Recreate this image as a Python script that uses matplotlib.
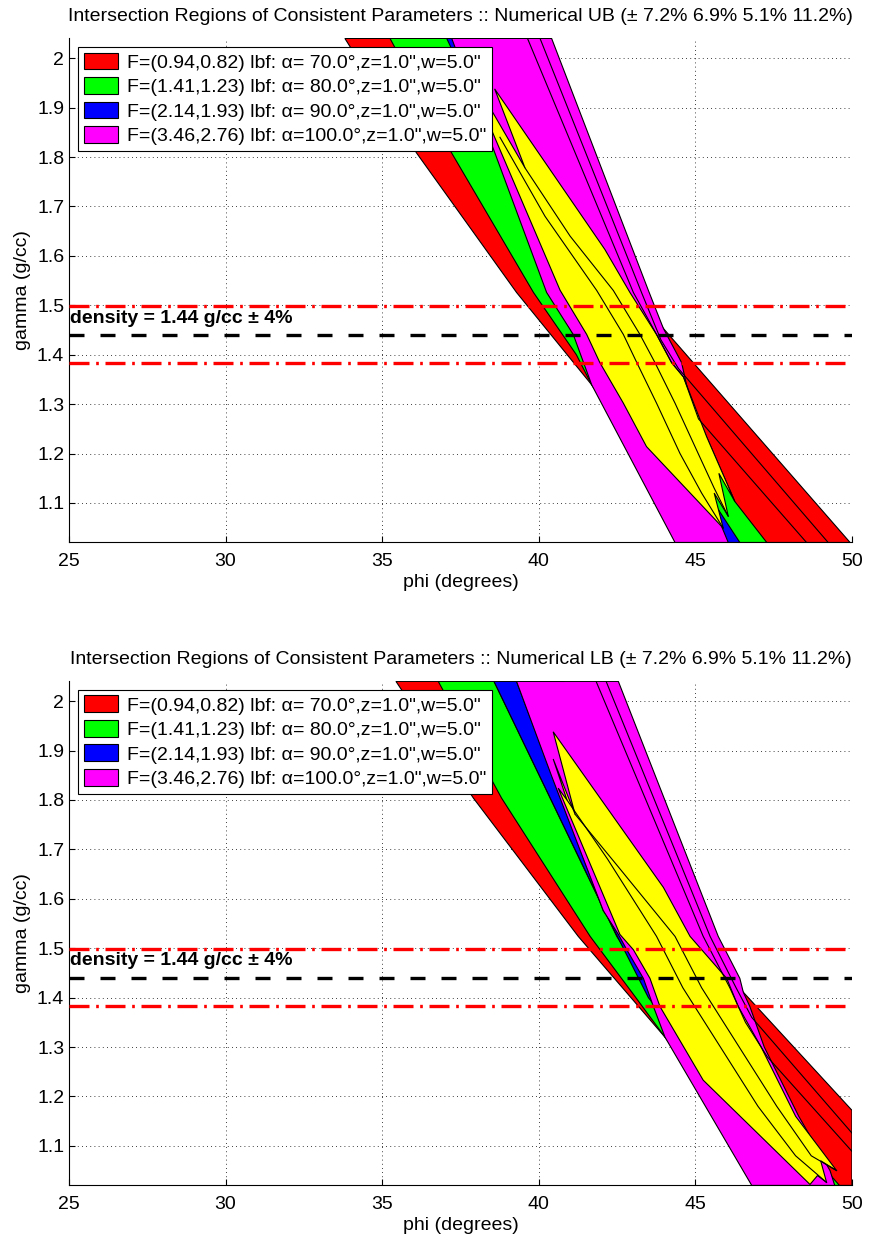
import numpy as np
import matplotlib.pyplot as plt
from matplotlib.patches import Patch

plt.rcParams['font.family'] = ['Liberation Sans', 'DejaVu Sans']

# ---------------- data ----------------
legend_labels = [
    'F=(0.94,0.82) lbf: \u03b1= 70.0\u00b0,z=1.0",w=5.0"',
    'F=(1.41,1.23) lbf: \u03b1= 80.0\u00b0,z=1.0",w=5.0"',
    'F=(2.14,1.93) lbf: \u03b1= 90.0\u00b0,z=1.0",w=5.0"',
    'F=(3.46,2.76) lbf: \u03b1=100.0\u00b0,z=1.0",w=5.0"',
]
band_colors = ['#ff0000', '#00ff00', '#0000ff', '#ff00ff']
titles = [
    'Intersection Regions of Consistent Parameters :: Numerical UB (\u00b1 7.2% 6.9% 5.1% 11.2%)',
    'Intersection Regions of Consistent Parameters :: Numerical LB (\u00b1 7.2% 6.9% 5.1% 11.2%)',
]
density = 1.44
density_tol = 0.04

# ---- UB panel: band edges (phi list, gamma list) ----
ub_red_l = ([33.81, 36.10, 39.29, 41.69, 45.3], [2.04, 1.808, 1.526, 1.339, 1.02])
ub_red_r = ([38.3, 43.98, 49.94], [2.04, 1.453, 1.02])
ub_grn_l = ([35.25, 37.22, 39.83, 41.2, 41.69, 45.2], [2.04, 1.808, 1.526, 1.40, 1.339, 1.02])
ub_grn_r = ([39.5, 43.5, 44.9, 46.26, 47.28], [2.04, 1.5, 1.3, 1.103, 1.02])
ub_blu_l = ([37.06, 38.8, 40.6, 42.3, 45.0], [2.04, 1.808, 1.5, 1.3, 1.02])
ub_blu_r = ([39.0, 42.5, 45.41, 46.42], [2.04, 1.5, 1.118, 1.02])
ub_mag_l = ([37.22, 38.60, 40.25, 41.10, 41.69, 44.35], [2.04, 1.808, 1.526, 1.441, 1.339, 1.02])
ub_mag_r = ([40.41, 43.5, 43.98, 44.56, 44.75, 45.41, 46.05], [2.04, 1.53, 1.453, 1.384, 1.33, 1.118, 1.02])
ub_yel = ([38.59, 42.11, 42.91, 43.76, 44.24, 44.62, 45.36, 46.26, 45.75, 46.05, 45.6, 45.89,
           43.44, 42.70, 41.95, 41.53, 40.68, 38.76, 37.48, 39.56],
          [1.938, 1.613, 1.526, 1.441, 1.384, 1.355, 1.234, 1.103, 1.16, 1.073, 1.12, 1.049,
           1.214, 1.302, 1.384, 1.441, 1.5305, 1.815, 2.005, 1.778])
ub_lines = [
    ([38.76, 40.2, 41.85, 42.70, 43.13, 43.76, 44.51, 45.2, 45.89],
     [1.84, 1.68, 1.53, 1.441, 1.384, 1.302, 1.2, 1.12, 1.049]),
    ([39.56, 41.0, 42.38, 43.23, 43.71, 44.35, 45.09, 45.6, 46.05],
     [1.778, 1.64, 1.53, 1.441, 1.384, 1.302, 1.2, 1.13, 1.073]),
    ([40.04, 43.28, 43.9, 44.46, 49.24], [2.04, 1.526, 1.43, 1.372, 1.02]),
    ([39.64, 43.02, 43.76, 44.24, 44.62, 45.1, 48.55], [2.04, 1.526, 1.441, 1.384, 1.355, 1.27, 1.02]),
]

# ---- LB panel ----
lb_red_l = ([35.44, 37.91, 41.26, 44.03, 47.8], [2.04, 1.804, 1.524, 1.320, 1.02])
lb_red_r = ([40.8, 46.53, 50.0, 50.0], [2.04, 1.411, 1.172, 1.02])
lb_grn_l = ([36.79, 38.81, 41.64, 43.1, 44.03, 47.9], [2.04, 1.804, 1.524, 1.40, 1.320, 1.02])
lb_grn_r = ([38.57, 42.49, 43.34, 44.3, 46.0, 48.5, 49.6], [2.04, 1.524, 1.439, 1.36, 1.25, 1.10, 1.02])
lb_blu_l = ([38.57, 42.3, 43.5, 46.0, 48.0], [2.04, 1.55, 1.40, 1.2, 1.02])
lb_blu_r = ([39.29, 42.06, 44.0, 47.0, 48.9], [2.04, 1.576, 1.40, 1.2, 1.02])
lb_mag_l = ([39.29, 40.4, 42.06, 42.54, 42.81, 43.34, 43.66, 44.03, 46.80],
            [2.04, 1.85, 1.576, 1.528, 1.497, 1.439, 1.382, 1.32, 1.02])
lb_mag_r = ([42.54, 45.73, 46.42, 46.53, 46.74, 47.2, 48.3, 49.3, 49.45],
            [2.04, 1.524, 1.439, 1.411, 1.382, 1.30, 1.16, 1.05, 1.02])
lb_yel = ([40.46, 43.98, 44.83, 46.0, 46.37, 47.1, 48.2, 49.51, 49.0, 49.19, 48.9, 48.66,
           45.25, 43.87, 43.55, 43.02, 42.59, 40.62, 40.9, 40.46, 41.16],
          [1.938, 1.623, 1.524, 1.439, 1.382, 1.30, 1.16, 1.05, 1.07, 1.026, 1.04, 1.022,
           1.233, 1.382, 1.439, 1.497, 1.528, 1.824, 1.80, 1.883, 1.771])
lb_lines = [
    ([41.16, 42.6, 44.35, 45.2, 46.4, 47.6, 48.7, 49.51], [1.771, 1.66, 1.524, 1.42, 1.30, 1.18, 1.08, 1.05]),
    ([40.9, 42.2, 43.76, 44.6, 45.8, 47.0, 48.2, 49.19], [1.80, 1.68, 1.524, 1.42, 1.30, 1.18, 1.08, 1.026]),
    ([42.15, 45.47, 46.3, 46.8, 50.0], [2.04, 1.524, 1.42, 1.36, 1.126]),
    ([41.83, 45.25, 46.1, 46.6, 47.3, 50.0], [2.04, 1.524, 1.42, 1.35, 1.28, 1.089]),
]

panels = [
    (titles[0], [(ub_red_l, ub_red_r), (ub_grn_l, ub_grn_r), (ub_blu_l, ub_blu_r), (ub_mag_l, ub_mag_r)],
     ub_yel, ub_lines),
    (titles[1], [(lb_red_l, lb_red_r), (lb_grn_l, lb_grn_r), (lb_blu_l, lb_blu_r), (lb_mag_l, lb_mag_r)],
     lb_yel, lb_lines),
]

# ---------------- figure ----------------
fig = plt.figure(figsize=(8.69, 12.4), dpi=100)
axes_rects = [[0.0794, 0.5629, 0.901, 0.4065], [0.0794, 0.0444, 0.901, 0.4065]]
ytick_vals = np.round(np.arange(1.1, 2.01, 0.1), 1)

for rect, (title, bands, yel, lines) in zip(axes_rects, panels):
    ax = fig.add_axes(rect)
    for (left, right), col in zip(bands, band_colors):
        xs = list(left[0]) + list(right[0])[::-1]
        ys = list(left[1]) + list(right[1])[::-1]
        ax.fill(xs, ys, facecolor=col, edgecolor='k', linewidth=0.8, zorder=2)
    ax.fill(yel[0], yel[1], facecolor='#ffff00', edgecolor='k', linewidth=0.8, zorder=3)
    for lx, ly in lines:
        ax.plot(lx, ly, color='k', linewidth=0.8, zorder=4)

    for lev in (density * (1 + density_tol), density * (1 - density_tol)):
        ax.axhline(lev, color='#ff0000', linestyle='-.', linewidth=2.4,
                   dashes=(6, 2, 0.8, 2), zorder=5)
    ax.axhline(density, color='k', linestyle='--', linewidth=2.4, dashes=(4.5, 4.8), zorder=5)
    ax.text(25.03, density + 0.017, 'density = %.2f g/cc \u00b1 %d%%' % (density, density_tol * 100),
            fontsize=14, fontweight='bold', ha='left', va='bottom', zorder=6)

    ax.set_xlim(25, 50)
    ax.set_ylim(1.021, 2.041)
    ax.set_xticks(np.arange(25, 51, 5))
    ax.set_yticks(ytick_vals)
    ax.set_yticklabels(['%g' % v for v in ytick_vals])
    ax.grid(True, color='k', linestyle=(0, (1, 4)), linewidth=0.6)
    ax.set_axisbelow(True)
    for s in ['top', 'right']:
        ax.spines[s].set_visible(False)
    ax.tick_params(direction='in', labelsize=14, length=4)
    ax.tick_params(axis='x', pad=8)
    ax.set_xlabel('phi (degrees)', fontsize=14, labelpad=3)
    ax.set_ylabel('gamma (g/cc)', fontsize=14)
    ax.set_title(title, fontsize=14, pad=12)

    handles = [Patch(facecolor=c, edgecolor='k', linewidth=0.8) for c in band_colors]
    leg = ax.legend(handles, legend_labels, loc='upper left', fontsize=14, framealpha=1,
                    fancybox=False, edgecolor='k', handlelength=1.75, handleheight=0.95,
                    borderaxespad=0.45, labelspacing=0.28, borderpad=0.3, handletextpad=0.5)
    leg.set_zorder(10)
    leg.get_frame().set_linewidth(0.8)

fig.savefig('out.png', dpi=100)
